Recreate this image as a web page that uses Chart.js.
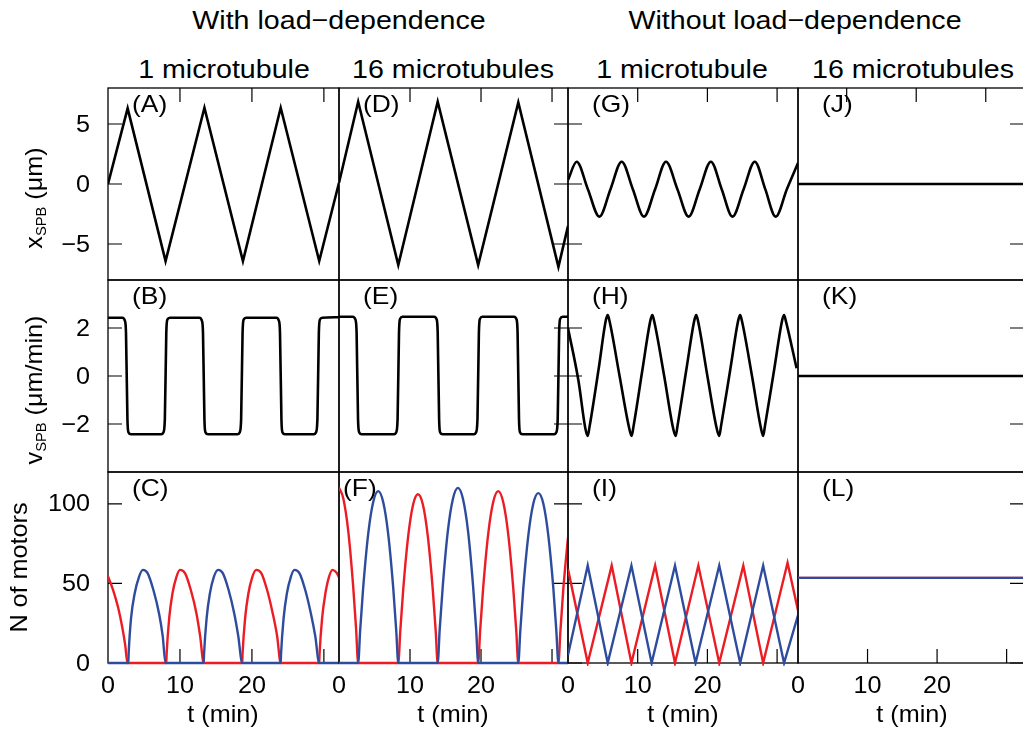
<!DOCTYPE html>
<html><head><meta charset="utf-8">
<script src="https://cdn.jsdelivr.net/npm/chart.js@4.4.1/dist/chart.umd.min.js"></script>
<style>
html,body{margin:0;padding:0;background:#fff;}
#wrap{position:relative;width:1023px;height:731px;overflow:hidden;font-family:"Liberation Sans",Arial,sans-serif;background:#fff;}
#wrap canvas{position:absolute;}
.hd{position:absolute;font-size:26px;line-height:26px;color:#000;white-space:nowrap;transform:translateX(-50%) scaleX(1.1);}
</style></head><body><div id="wrap">
<div class="hd" style="left:339px;top:7px">With load−dependence</div>
<div class="hd" style="left:795px;top:7px">Without load−dependence</div>
<div class="hd" style="left:224px;top:56px">1 microtubule</div>
<div class="hd" style="left:453px;top:56px">16 microtubules</div>
<div class="hd" style="left:682px;top:56px">1 microtubule</div>
<div class="hd" style="left:913px;top:56px">16 microtubules</div>
</div>
<script>
// ---------- DATA (t in min, value) ----------
const posA = [[0,0],[2.73,6.3],[8.0,-6.42],[13.4,6.35],[18.75,-6.42],[24.0,6.35],[29.35,-6.42],[32.1,0.1]];
const posD = [[0,0.1],[2.7,6.85],[8.35,-6.75],[13.9,6.85],[19.6,-6.75],[25.25,6.8],[30.9,-6.9],[32.25,-3.5]];
const posG = [[0,0.33],[1.24,1.86],[2.85,-0.43],[4.5,-2.72],[6.1,-0.43],[7.7,1.86],[9.3,-0.43],[10.9,-2.72],[12.5,-0.43],[14.06,1.86],[15.7,-0.43],[17.3,-2.72],[18.9,-0.43],[20.5,1.86],[22.05,-0.43],[23.6,-2.72],[25.2,-0.43],[26.8,1.86],[28.3,-0.43],[29.8,-2.72],[31.4,-0.43],[33,1.75]];
const posJ = [[0,0],[32.5,0]];

const velB = [[0,2.43],[2.0,2.43],[2.35,2.3],[2.5,1.8],[2.7,-1.8],[2.85,-2.35],[3.2,-2.43],[7.4,-2.43],[7.7,-2.35],[7.9,-1.8],[8.1,1.8],[8.25,2.35],[8.6,2.43],[12.7,2.43],[13.05,2.3],[13.2,1.8],[13.4,-1.8],[13.55,-2.35],[13.9,-2.43],[18.0,-2.43],[18.3,-2.35],[18.5,-1.8],[18.7,1.8],[18.85,2.35],[19.2,2.43],[23.4,2.43],[23.75,2.3],[23.9,1.8],[24.1,-1.8],[24.25,-2.35],[24.6,-2.43],[28.6,-2.43],[28.9,-2.35],[29.1,-1.8],[29.3,1.8],[29.45,2.35],[29.8,2.43],[32.1,2.45]];
const velE = [[0,2.47],[1.95,2.47],[2.3,2.36],[2.48,1.8],[2.68,-1.8],[2.85,-2.35],[3.2,-2.43],[7.75,-2.43],[8.05,-2.35],[8.25,-1.8],[8.45,1.8],[8.6,2.38],[8.95,2.47],[13.4,2.47],[13.75,2.36],[13.9,1.8],[14.1,-1.8],[14.25,-2.35],[14.6,-2.43],[19.0,-2.43],[19.3,-2.35],[19.5,-1.8],[19.7,1.8],[19.85,2.38],[20.2,2.47],[24.65,2.47],[25.0,2.36],[25.15,1.8],[25.35,-1.8],[25.5,-2.35],[25.85,-2.43],[30.3,-2.43],[30.6,-2.35],[30.8,-1.8],[31.0,1.8],[31.15,2.38],[31.5,2.47],[32.25,2.47]];
const velH = [[0,2.0],[1.5,-0.2],[2.5,-2.2],[2.83,-2.5],[3.1,-2.1],[4.4,0.3],[5.45,2.35],[5.7,2.54],[5.95,2.3],[7.4,0],[8.8,-2.2],[9.13,-2.5],[9.4,-2.1],[10.7,0.3],[11.85,2.35],[12.1,2.54],[12.35,2.3],[13.8,0],[15.1,-2.2],[15.45,-2.5],[15.7,-2.1],[17.0,0.3],[18.15,2.35],[18.4,2.54],[18.65,2.3],[20.0,0],[21.35,-2.2],[21.7,-2.5],[21.95,-2.1],[23.3,0.3],[24.45,2.35],[24.7,2.54],[24.95,2.3],[26.4,0],[27.7,-2.2],[28.0,-2.5],[28.25,-2.1],[29.6,0.3],[30.75,2.35],[31.0,2.54],[31.25,2.3],[32.8,0.32]];
const velK = [[0,0],[32.5,0]];

const motC_red = [[0,54.4],[0.7,46],[1.4,35],[2.0,22],[2.4,11],[2.7,0],[8.1,0],[8.15,6],[8.5,28],[8.95,43.5],[9.5,54],[10.0,58.5],[10.7,56.5],[11.5,46],[12.3,31],[12.8,17],[13.3,0],[18.65,0],[18.7,6],[19.05,28],[19.5,43.5],[20.05,54],[20.6,58.5],[21.3,56.5],[22.1,46],[22.9,31],[23.5,17],[24.0,0],[29.35,0],[29.4,6],[29.75,28],[30.2,43.5],[30.7,54],[31.2,58.5],[31.8,56.5],[32.1,53.8]];
const motC_blue = [[0,0],[2.82,0],[2.87,6],[3.2,28],[3.7,43.5],[4.3,54],[4.85,58.5],[5.5,56.5],[6.3,46],[7.1,31],[7.6,17],[8.0,0],[13.3,0],[13.35,6],[13.7,28],[14.15,43.5],[14.7,54],[15.3,58.5],[15.95,56.5],[16.75,46],[17.55,31],[18.1,17],[18.65,0],[24.0,0],[24.05,6],[24.4,28],[24.85,43.5],[25.4,54],[25.9,58.5],[26.6,56.5],[27.4,46],[28.2,31],[28.8,17],[29.35,0],[32.1,0]];
const motF_red = [[0,110.2],[0.6,103.5],[1.3,83],[2.0,48],[2.4,22],[2.7,0],[8.35,0],[8.63,20],[9.04,46],[9.74,79.5],[10.43,99.4],[11.12,106],[11.82,99.4],[12.51,79.5],[13.21,46],[13.62,20],[13.9,0],[19.6,0],[19.88,20.5],[20.3,47],[21.01,81],[21.71,101],[22.42,108],[23.13,101],[23.83,81],[24.54,47],[24.96,20.5],[25.25,0],[30.9,0],[31.18,20],[31.6,47],[32.25,79]];
const motF_blue = [[0,0],[2.7,0],[2.98,20.5],[3.4,47],[4.11,81],[4.81,101],[5.52,108],[6.23,101],[6.93,81],[7.64,47],[8.06,20.5],[8.35,0],[13.9,0],[14.18,21],[14.61,48],[15.32,82.5],[16.04,103],[16.75,110],[17.46,103],[18.18,82.5],[18.89,48],[19.32,21],[19.6,0],[25.25,0],[25.53,20],[25.95,46.7],[26.66,80],[27.36,100],[28.07,106.7],[28.78,100],[29.48,80],[30.19,46.7],[30.61,20],[30.9,0],[32.25,0]];
const motI_red = [[0,59],[2.83,0],[6.27,61.2],[9.1,0],[12.5,61.2],[15.35,0],[18.7,61.2],[21.7,0],[25.15,61.2],[28.0,0],[31.5,63],[33,33]];
const motI_blue = [[0,5],[2.83,61.2],[5.7,0],[9.1,61.2],[12.0,0],[15.35,61.2],[18.3,0],[21.7,61.2],[24.7,0],[28.0,61.2],[31.0,0],[33,30]];
const motL_red = [[0,53.5],[32.5,53.5]];
const motL_blue = [[0,53.5],[32.5,53.5]];

// ticks and labels
const xTicks = [10,20,30];
const xTicksTopJ = [7,17,27];
const xLabelVals = [0,10,20];
const xLabels = ['0','10','20'];
const yTicksPos = [-5,0,5], yLabelsPos = ['−5','0','5'];
const yTicksVel = [-2,0,2], yLabelsVel = ['−2','0','2'];
const yTicksMot = [0,50,100], yLabelsMot = ['0','50','100'];
const panelLabels = ['(A)','(B)','(C)','(D)','(E)','(F)','(G)','(H)','(I)','(J)','(K)','(L)'];

// ---------- LAYOUT ----------
const RED = '#ec1c24', BLUE = '#2e4c9e', BLACK = '#000';
const FONT = '"Liberation Sans", Arial, sans-serif';
const COLS = [{L:108,R:339,xmax:32.1},{L:339,R:568,xmax:32.25},{L:568,R:798,xmax:33},{L:798,R:1024,xmax:32.5}];
const TITLE_X = [223, 453, 683, 912];
const ROWS = [
  {T:88,B:280,min:-8,max:8,ticks:yTicksPos,labels:yLabelsPos,title:[['x',24,0],['SPB',14,4],[' (μm)',24,0]],titleX:42},
  {T:280,B:472,min:-4,max:4,ticks:yTicksVel,labels:yLabelsVel,title:[['v',24,0],['SPB',14,4],[' (μm/min)',24,0]],titleX:42},
  {T:472,B:663,min:0,max:120,ticks:yTicksMot,labels:yLabelsMot,title:[['N of motors',24,0]],titleX:27}
];
const SERIES = [
  [[{d:posA,c:BLACK}],[{d:velB,c:BLACK,m:'monotone'}],[{d:motC_blue,c:BLUE,m:'monotone'},{d:motC_red,c:RED,m:'monotone'}]],
  [[{d:posD,c:BLACK}],[{d:velE,c:BLACK,m:'monotone'}],[{d:motF_blue,c:BLUE,m:'monotone'},{d:motF_red,c:RED,m:'monotone'}]],
  [[{d:posG,c:BLACK,m:'monotone'}],[{d:velH,c:BLACK,m:'monotone'}],[{d:motI_blue,c:BLUE},{d:motI_red,c:RED}]],
  [[{d:posJ,c:BLACK}],[{d:velK,c:BLACK}],[{d:motL_blue,c:BLUE},{d:motL_red,c:RED}]]
];

function txt(ctx, s, x, y, size, align, base, sx) {
  ctx.save();
  ctx.font = size + 'px ' + FONT;
  ctx.textAlign = align; ctx.textBaseline = base;
  ctx.translate(x, y); ctx.scale(sx || 1.05, 1);
  ctx.fillText(s, 0, 0);
  ctx.restore();
}

function drawPanel(chart, sp) {
  const ctx = chart.ctx, ca = chart.chartArea, xs = chart.scales.x, ys = chart.scales.y;
  const row = ROWS[sp.row];
  ctx.save();
  ctx.strokeStyle = '#000';
  ctx.lineWidth = 1.3;
  ctx.strokeRect(ca.left, ca.top, ca.right - ca.left, ca.bottom - ca.top);
  ctx.lineWidth = 1.2;
  ctx.beginPath();
  const TL = 14;
  if (sp.col === 0 || sp.col === 2) row.ticks.forEach(v => { const y = ys.getPixelForValue(v); ctx.moveTo(ca.left, y); ctx.lineTo(ca.left + TL, y); });
  if (sp.col === 1 || sp.col === 3) row.ticks.forEach(v => { const y = ys.getPixelForValue(v); ctx.moveTo(ca.right - TL, y); ctx.lineTo(ca.right, y); });
  if (sp.row === 0) (sp.col === 3 ? xTicksTopJ : xTicks).forEach(v => { const x = xs.getPixelForValue(v); ctx.moveTo(x, ca.top); ctx.lineTo(x, ca.top + TL); });
  if (sp.row === 2) xTicks.forEach(v => { const x = xs.getPixelForValue(v); ctx.moveTo(x, ca.bottom - TL); ctx.lineTo(x, ca.bottom); });
  ctx.stroke();
  ctx.fillStyle = '#000';
  txt(ctx, sp.label, ca.left + sp.labelDx, ca.top + 24, 24, 'left', 'alphabetic', 1.1);
  if (sp.col === 0) {
    row.ticks.forEach((v, i) => txt(ctx, row.labels[i], ca.left - 18, ys.getPixelForValue(v) + 1, 24, 'right', 'middle'));
    const cy = (ca.top + ca.bottom) / 2 + (sp.row < 2 ? 14 : 0);
    ctx.save();
    ctx.translate(row.titleX - sp.ox, cy);
    ctx.rotate(-Math.PI / 2);
    ctx.scale(1.05, 1);
    let total = 0;
    row.title.forEach(p => { ctx.font = p[1] + 'px ' + FONT; total += ctx.measureText(p[0]).width; });
    let x = -total / 2;
    ctx.textAlign = 'left'; ctx.textBaseline = 'alphabetic';
    row.title.forEach(p => { ctx.font = p[1] + 'px ' + FONT; ctx.fillText(p[0], x, p[2]); x += ctx.measureText(p[0]).width; });
    ctx.restore();
  }
  if (sp.row === 2) {
    xLabelVals.forEach((v, i) => txt(ctx, xLabels[i], xs.getPixelForValue(v), 693 - sp.oy, 24, 'center', 'alphabetic'));
    txt(ctx, 't (min)', TITLE_X[sp.col] - sp.ox, 722 - sp.oy, 24, 'center', 'alphabetic');
  }
  ctx.restore();
}

const wrap = document.getElementById('wrap');
for (let c = 0; c < 4; c++) {
  for (let r = 0; r < 3; r++) {
    const col = COLS[c], row = ROWS[r];
    const pl = c === 0 ? col.L : 14, pr = 6, pt = 6, pb = r === 2 ? 731 - row.B : 6;
    const ox = col.L - pl, oy = row.T - pt;
    const W = (col.R - col.L) + pl + pr, H = (row.B - row.T) + pt + pb;
    const cv = document.createElement('canvas');
    cv.width = W; cv.height = H;
    cv.style.left = ox + 'px'; cv.style.top = oy + 'px';
    cv.style.width = W + 'px'; cv.style.height = H + 'px';
    wrap.appendChild(cv);
    const sp = {col: c, row: r, ox, oy, label: panelLabels[c * 3 + r], labelDx: (c === 1 && r === 2) ? 4 : 24};
    const datasets = SERIES[c][r].map(s => ({
      data: s.d.map(p => ({x: p[0], y: p[1]})),
      borderColor: s.c,
      borderWidth: s.c === BLACK ? 2.6 : 2.4,
      pointRadius: 0,
      fill: false,
      tension: 0,
      cubicInterpolationMode: s.m || 'default',
      borderJoinStyle: 'miter',
      clip: r === 2 ? {left: 0, top: 0, right: 0, bottom: 3} : 0
    }));
    new Chart(cv, {
      type: 'line',
      data: {datasets},
      options: {
        responsive: false,
        animation: false,
        devicePixelRatio: 1,
        layout: {padding: {left: pl, right: pr, top: pt, bottom: pb}},
        scales: {
          x: {type: 'linear', display: false, min: 0, max: col.xmax},
          y: {type: 'linear', display: false, min: row.min, max: row.max}
        },
        plugins: {legend: {display: false}, tooltip: {enabled: false}},
        events: []
      },
      plugins: [{id: 'panel', beforeDatasetsDraw(chart) { drawPanel(chart, sp); }}]
    });
  }
}
</script></body></html>
